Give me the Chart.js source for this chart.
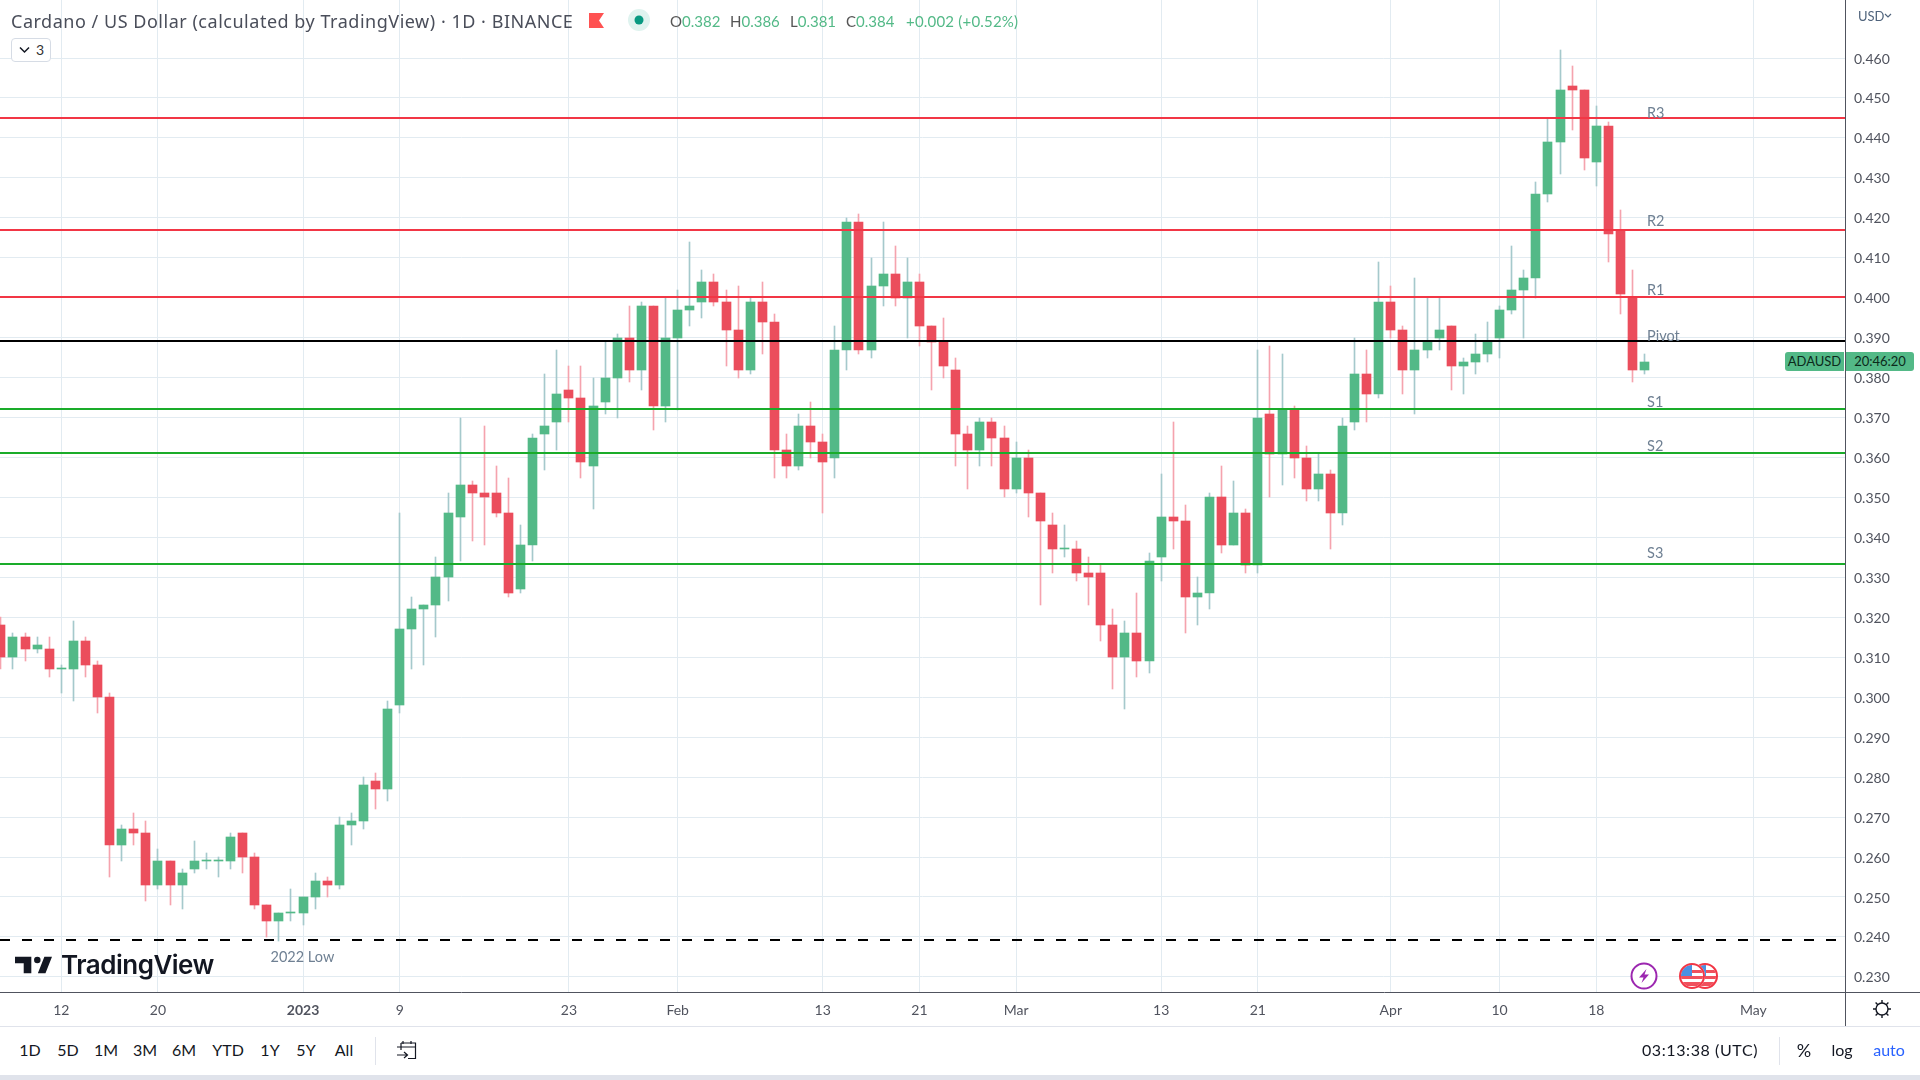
<!DOCTYPE html>
<html lang="en">
<head>
<meta charset="UTF-8">
<title>ADAUSD</title>
<script src="https://cdn.jsdelivr.net/npm/chart.js"></script>
<style>
  html, body { margin: 0; padding: 0; background: #fff; overflow: hidden; }
  body { width: 1920px; height: 1080px; position: relative; font-family: "Lato", sans-serif; color: #131722; }
  canvas { position: absolute; left: 0; top: 0; }
  .abs { position: absolute; white-space: nowrap; line-height: 1; }
  .hl { position: absolute; background: #e0e3eb; }
  .range { top: 1042px; font-size: 16px; transform: translateX(-50%); }
  .v { color: #53b987; }
</style>
</head>
<body>
<canvas id="chart" width="1920" height="1027"></canvas>

<!-- header -->
<div class="abs" id="title" style="left:11px;top:12px;font-family:'Noto Sans',sans-serif;font-size:18px;letter-spacing:0.52px;color:#4a4e5a">Cardano / US Dollar (calculated by TradingView) · 1D · BINANCE</div>
<svg class="abs" style="left:589px;top:13px" width="15" height="15"><path d="M0 0H15L10 7.5L15 15H0z" fill="#ff5252"/></svg>
<svg class="abs" style="left:628px;top:9px" width="22" height="22"><circle cx="11" cy="11" r="11" fill="#dff3ef"/><circle cx="11" cy="11" r="4.5" fill="#089981"/></svg>
<div class="abs" style="left:670px;top:14px;font-size:15px;color:#555">O<span class="v">0.382</span></div>
<div class="abs" style="left:730px;top:14px;font-size:15px;color:#555">H<span class="v">0.386</span></div>
<div class="abs" style="left:790px;top:14px;font-size:15px;color:#555">L<span class="v">0.381</span></div>
<div class="abs" style="left:846px;top:14px;font-size:15px;color:#555">C<span class="v">0.384</span></div>
<div class="abs v" style="left:906px;top:14px;font-size:15px;letter-spacing:0.2px">+0.002 (+0.52%)</div>
<div class="abs" style="left:11px;top:38px;width:38px;height:22px;border:1px solid #d6dce5;border-radius:4px;background:#fff"></div>
<svg class="abs" style="left:19px;top:46px" width="11" height="8"><path d="M1 1.5L5.5 6L10 1.5" fill="none" stroke="#131722" stroke-width="1.5"/></svg>
<div class="abs" style="left:36px;top:43px;font-size:14px;color:#333">3</div>

<!-- logo -->
<svg class="abs" style="left:15px;top:956px" width="37" height="18" viewBox="0 6 34 15"><path d="M15 6H0v6h8v9h7V6zM28 21h-7l6-15h7l-6 15z" fill="#131722"/><circle cx="20.5" cy="9" r="3" fill="#131722"/></svg>
<div class="abs" style="left:61px;top:952px;font-family:Inter,sans-serif;font-weight:600;font-size:26px;letter-spacing:-0.5px;color:#131722">TradingView</div>

<!-- right scale bits -->
<div class="abs" style="left:1858px;top:10px;font-size:13px;color:#50647c">USD</div>
<svg class="abs" style="left:1884px;top:13px" width="8" height="6"><path d="M1 1L4 4L7 1" fill="none" stroke="#50647c" stroke-width="1.2"/></svg>
<div class="abs" style="left:1785px;top:352px;width:59px;height:19px;background:#53b987;border-radius:3px 0 0 3px;font-size:13px;line-height:19px;text-align:center;color:#0c2a1b">ADAUSD</div>
<div class="abs" style="left:1846px;top:352px;width:68px;height:19px;background:#53b987;border-radius:0 3px 3px 0;font-size:13px;line-height:19px;text-align:center;color:#0c2a1b">20:46:20</div>

<!-- event markers -->
<svg class="abs" style="left:1630px;top:962px" width="28" height="28"><circle cx="14" cy="14" r="12.5" fill="#fff" stroke="#9c27b0" stroke-width="2"/><path d="M16.5 7L9 15.5H13.5L11.5 21L19 12.5H14.5z" fill="#9c27b0"/></svg>
<svg class="abs" style="left:1678px;top:962px" width="42" height="28">
  <defs><clipPath id="c2"><circle cx="27" cy="14" r="11"/></clipPath><clipPath id="c1"><circle cx="14" cy="14" r="11"/></clipPath></defs>
  <g clip-path="url(#c2)"><rect x="14" y="0" width="28" height="28" fill="#fff"/><rect x="14" y="8" width="28" height="3" fill="#f0505c"/><rect x="14" y="14" width="28" height="3" fill="#f0505c"/><rect x="14" y="20" width="28" height="4" fill="#f0505c"/><rect x="14" y="3" width="14" height="11" fill="#4a90e2"/></g>
  <circle cx="27" cy="14" r="12" fill="none" stroke="#f23645" stroke-width="2"/>
  <circle cx="14" cy="14" r="13" fill="#fff"/>
  <g clip-path="url(#c1)"><rect width="28" height="28" fill="#fff"/><rect y="8" width="28" height="3" fill="#f0505c"/><rect y="14" width="28" height="3" fill="#f0505c"/><rect y="20" width="28" height="4" fill="#f0505c"/><rect y="3" width="14" height="11" fill="#4a90e2"/></g>
  <circle cx="14" cy="14" r="12" fill="none" stroke="#f23645" stroke-width="2"/>
</svg>

<!-- frame lines -->
<div class="abs" style="left:1845px;top:0;width:1px;height:1026px;background:#50535e"></div>
<div class="abs" style="left:1845px;top:992px;width:75px;height:1px;background:#50535e"></div>
<div class="hl" style="left:0;top:1026px;width:1920px;height:1px"></div>
<div class="hl" style="left:0;top:1075px;width:1920px;height:5px"></div>
<div class="hl" style="left:375px;top:1037px;width:1px;height:28px"></div>
<div class="hl" style="left:1779px;top:1037px;width:1px;height:28px"></div>

<!-- gear -->
<svg class="abs" style="left:1872px;top:999px" width="20" height="20" viewBox="0 0 20 20"><circle cx="10" cy="10" r="6" fill="none" stroke="#131722" stroke-width="1.4"/><path d="M10 1V4M10 16V19M1 10H4M16 10H19M3.6 3.6L5.8 5.8M14.2 14.2L16.4 16.4M3.6 16.4L5.8 14.2M14.2 5.8L16.4 3.6" stroke="#131722" stroke-width="1.4"/></svg>

<!-- bottom toolbar -->
<div class="abs range" style="left:30px">1D</div>
<div class="abs range" style="left:68px">5D</div>
<div class="abs range" style="left:106px">1M</div>
<div class="abs range" style="left:145px">3M</div>
<div class="abs range" style="left:184px">6M</div>
<div class="abs range" style="left:228px">YTD</div>
<div class="abs range" style="left:270px">1Y</div>
<div class="abs range" style="left:306px">5Y</div>
<div class="abs range" style="left:344px">All</div>
<svg class="abs" style="left:396px;top:1040px" width="22" height="21" viewBox="0 0 22 21"><path d="M5 3H19.5V18.5H12M5 3V10M1 7H19.5M7 1V4M15 1V4M1 15H11M8 12L11.5 15L8 18" fill="none" stroke="#131722" stroke-width="1.2"/></svg>
<div class="abs range" style="left:1700px;letter-spacing:0.6px">03:13:38 (UTC)</div>
<div class="abs range" style="left:1804px;font-size:18px;top:1041px">%</div>
<div class="abs range" style="left:1842px">log</div>
<div class="abs range" style="left:1889px;color:#2962ff">auto</div>

<script>
// days counted from 1 Jan 2023, Dec 7 .. Apr 22
const days = [-25,-24,-23,-22,-21,-20,-19,-18,-17,-16,-15,-14,-13,-12,-11,-10,-9,-8,-7,-6,-5,-4,-3,-2,-1,
  0,1,2,3,4,5,6,7,8,9,10,11,12,13,14,15,16,17,18,19,20,21,22,23,24,25,26,27,28,29,30,
  31,32,33,34,35,36,37,38,39,40,41,42,43,44,45,46,47,48,49,50,51,52,53,54,55,56,57,58,
  59,60,61,62,63,64,65,66,67,68,69,70,71,72,73,74,75,76,77,78,79,80,81,82,83,84,85,86,87,88,89,
  90,91,92,93,94,95,96,97,98,99,100,101,102,103,104,105,106,107,108,109,110,111];

const opens = [.318,.310,.315,.312,.312,.307,.307,.314,.308,.300,.263,.267,.266,.253,.259,.253,.257,.259,.259,.259,.266,.260,.248,.244,.246,
  .246,.250,.254,.253,.268,.269,.279,.277,.298,.317,.322,.323,.330,.345,.353,.351,.351,.346,.327,.338,.366,.369,.377,.375,.358,.374,.380,.390,.382,.398,.373,
  .390,.397,.399,.404,.399,.392,.382,.399,.394,.362,.358,.368,.364,.360,.387,.419,.387,.403,.406,.400,.404,.393,.389,.382,.366,.362,.369,.365,
  .352,.360,.351,.343,.337,.337,.331,.331,.318,.310,.316,.309,.335,.345,.344,.325,.326,.350,.338,.346,.333,.371,.361,.372,.360,.352,.356,.346,.369,.381,.376,
  .399,.392,.382,.387,.390,.393,.383,.384,.386,.390,.397,.402,.405,.426,.439,.453,.452,.434,.443,.417,.400,.382];
const highs = [.320,.316,.316,.315,.315,.308,.319,.315,.309,.301,.268,.271,.269,.262,.259,.257,.264,.261,.260,.266,.266,.261,.248,.246,.252,
  .250,.256,.255,.270,.271,.280,.281,.299,.346,.325,.323,.335,.351,.370,.354,.368,.358,.355,.343,.366,.381,.387,.383,.383,.380,.389,.391,.398,.399,.398,.400,
  .402,.414,.407,.406,.402,.403,.400,.404,.396,.366,.371,.374,.366,.393,.420,.421,.410,.419,.413,.410,.406,.393,.395,.385,.368,.370,.370,.368,
  .364,.362,.351,.346,.343,.339,.335,.333,.322,.319,.326,.336,.356,.369,.348,.330,.351,.358,.354,.347,.387,.388,.386,.373,.363,.361,.357,.370,.390,.387,.409,
  .403,.393,.405,.400,.400,.393,.385,.391,.394,.398,.413,.407,.429,.445,.462,.458,.452,.448,.444,.422,.407,.386];
const lows = [.307,.307,.309,.311,.305,.301,.299,.305,.296,.255,.259,.263,.249,.252,.248,.247,.256,.257,.255,.257,.256,.247,.240,.239,.244,
  .243,.247,.250,.252,.263,.267,.272,.274,.296,.307,.308,.315,.324,.334,.339,.338,.345,.325,.326,.334,.357,.362,.369,.355,.347,.371,.370,.379,.377,.367,.369,
  .372,.393,.395,.398,.383,.380,.381,.386,.355,.355,.357,.360,.346,.355,.382,.386,.385,.398,.398,.390,.388,.377,.380,.358,.352,.358,.358,.350,
  .351,.345,.323,.331,.335,.329,.323,.314,.302,.297,.305,.306,.329,.337,.316,.318,.322,.336,.338,.331,.331,.350,.353,.355,.349,.349,.337,.343,.367,.369,.375,
  .390,.376,.371,.385,.387,.377,.376,.381,.384,.385,.396,.390,.400,.424,.431,.442,.432,.428,.409,.396,.379,.381];
const closes = [.310,.315,.312,.313,.307,.307,.314,.308,.300,.263,.267,.266,.253,.259,.253,.256,.259,.259,.259,.265,.260,.248,.244,.246,.246,
  .250,.254,.253,.268,.269,.278,.277,.297,.317,.322,.323,.330,.346,.353,.351,.350,.346,.326,.338,.365,.368,.376,.375,.359,.373,.380,.390,.382,.398,.373,.390,
  .397,.398,.404,.399,.392,.382,.399,.394,.362,.358,.368,.364,.359,.387,.419,.387,.403,.406,.400,.404,.393,.389,.383,.366,.362,.369,.365,.352,
  .360,.351,.344,.337,.337,.331,.330,.318,.310,.316,.309,.334,.345,.344,.325,.326,.350,.338,.346,.333,.370,.361,.372,.360,.352,.356,.346,.368,.381,.376,.399,
  .392,.382,.387,.389,.392,.383,.384,.386,.389,.397,.402,.405,.426,.439,.452,.452,.435,.443,.416,.401,.382,.384];

const priceTicks = [.230,.240,.250,.260,.270,.280,.290,.300,.310,.320,.330,.340,.350,.360,.370,.380,.390,.400,.410,.420,.430,.440,.450,.460];
const timeTicks = [-20,-12,0,8,22,31,43,51,59,71,79,90,99,107,120];
const timeLabels = ['12','20','2023','9','23','Feb','13','21','Mar','13','21','Apr','10','18','May'];

const levelNames = ['R3','R2','R1','Pivot','S1','S2','S3'];
const levelValues = [.445,.417,.4002,.3892,.3722,.3612,.3333];
// the captions sit at their own prices, a little above each line
const captionValues = [.4462,.4190,.4018,.3904,.3739,.3629,.3361];
const lowName = '2022 Low';
const lowValue = .2392;
const lowCaptionValue = .2350;

// visible window of the scales
const xMin = -25.07, xMax = 127.58;
const yMin = .22622, yMax = .47452;

const UP = '#53b987', DOWN = '#eb4d5c';
const UP_WICK = '#a5c9cc', DOWN_WICK = '#f5a3ae';
const GRID = '#e2ebf1';
const AXIS = '#50535e';
const FONT = 'Lato, sans-serif';

function levelColor(name) {
  if (name[0] === 'R') return '#f23645';
  if (name[0] === 'S') return '#1aac2a';
  return '#000000';
}

const isUp = days.map((d, i) => closes[i] >= opens[i]);

const datasets = [];
levelNames.forEach((name, i) => {
  datasets.push({
    type: 'line', order: 1, label: name, snapLine: true,
    data: [{ x: xMin, y: levelValues[i] }, { x: xMax, y: levelValues[i] }],
    borderColor: levelColor(name), borderWidth: 2, pointRadius: 0
  });
});
datasets.push({
  type: 'line', order: 1, label: lowName, snapLine: true,
  data: [{ x: xMin, y: lowValue }, { x: xMax - 0.7, y: lowValue }],
  borderColor: '#000000', borderWidth: 2, borderDash: [10, 12], pointRadius: 0
});
datasets.push({
  type: 'bar', order: 4, label: 'body', snap: true,
  data: days.map((d, i) => ({ x: d, y: [opens[i], closes[i]] })),
  backgroundColor: isUp.map(u => u ? UP : DOWN),
  barThickness: 9, minBarLength: 1, grouped: false
});
datasets.push({
  type: 'bar', order: 5, label: 'wick', snap: true,
  data: days.map((d, i) => ({ x: d, y: [lows[i], highs[i]] })),
  backgroundColor: isUp.map(u => u ? UP_WICK : DOWN_WICK),
  barThickness: 1, grouped: false
});

// keeps candles and level lines on whole pixels, the way the original is drawn
const snapMarks = {
  id: 'snapMarks',
  afterDatasetsUpdate(chart) {
    chart.data.datasets.forEach((ds, i) => {
      const els = chart.getDatasetMeta(i).data;
      if (ds.snapLine) els.forEach(el => { el.y = Math.round(el.y); });
      if (!ds.snap) return;
      els.forEach(el => {
        el.x = Math.floor(el.x) + 0.5;
        const h = Math.abs(el.base - el.y);
        el.y = Math.round(el.y);
        el.base = h <= 1.01 ? el.y + 1 : Math.round(el.base);
      });
    });
  }
};

// R3, R2 ... and 2022 Low captions
const levelText = {
  id: 'levelText',
  afterDatasetsDraw(chart) {
    const { ctx, scales: { x, y } } = chart;
    ctx.save();
    ctx.font = '14.5px ' + FONT;
    ctx.fillStyle = '#6f8093';
    ctx.textBaseline = 'middle';
    ctx.textAlign = 'left';
    levelNames.forEach((name, i) => {
      ctx.fillText(name, x.getPixelForValue(111.2), y.getPixelForValue(captionValues[i]));
    });
    ctx.textAlign = 'center';
    ctx.fillText(lowName, x.getPixelForValue(-0.05), y.getPixelForValue(lowCaptionValue));
    ctx.restore();
  }
};

new Chart(document.getElementById('chart'), {
  type: 'bar',
  data: { datasets },
  plugins: [snapMarks, levelText],
  options: {
    responsive: false,
    animation: false,
    layout: { padding: 0 },
    plugins: { legend: { display: false }, tooltip: { enabled: false } },
    scales: {
      x: {
        type: 'linear', min: xMin, max: xMax, offset: false, bounds: 'data',
        grid: { color: GRID, offset: false, drawTicks: false },
        border: { color: AXIS, width: 1 },
        afterBuildTicks: axis => { axis.ticks = timeTicks.map(v => ({ value: v })); },
        afterFit: axis => { axis.height = 35; axis.paddingLeft = 0; axis.paddingRight = 0; },
        ticks: {
          autoSkip: false, maxRotation: 0, padding: 10, color: AXIS,
          font: ctx => ({ family: FONT, size: 14, weight: ctx.tick && ctx.tick.value === 0 ? 'bold' : 'normal' }),
          callback: v => timeLabels[timeTicks.indexOf(v)]
        }
      },
      y: {
        type: 'linear', position: 'right', min: yMin, max: yMax, beginAtZero: false, bounds: 'data',
        grid: { color: GRID, drawTicks: false },
        border: { color: AXIS, width: 1 },
        afterBuildTicks: axis => { axis.ticks = priceTicks.map(v => ({ value: v })); },
        afterFit: axis => { axis.width = 75; axis.paddingTop = 0; axis.paddingBottom = 0; },
        ticks: {
          autoSkip: false, padding: 9, color: AXIS, crossAlign: 'near', labelOffset: 1,
          font: { family: FONT, size: 14 },
          callback: v => v.toFixed(3)
        }
      }
    }
  }
});
</script>
</body>
</html>
